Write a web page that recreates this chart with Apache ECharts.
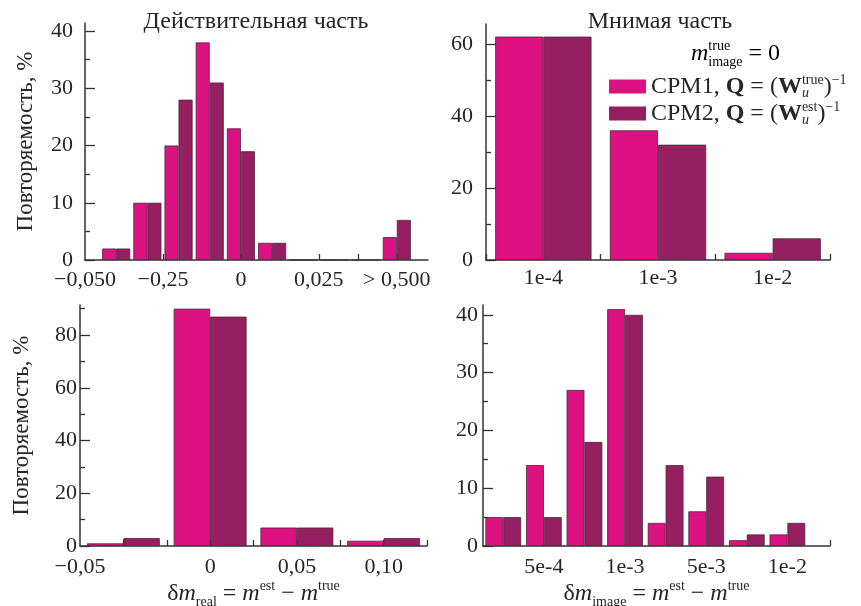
<!DOCTYPE html>
<html><head><meta charset="utf-8">
<script src="https://cdn.jsdelivr.net/npm/echarts@6/dist/echarts.min.js"></script>
<style>html,body{margin:0;padding:0;background:#fff}#c{width:861px;height:606px}</style>
</head><body><div id="c"></div>
<script>
// ---- data ----
const realBins = [1, 2, 3, 4, 5, 6, 7, 8, 9, 10];
const realCPM1 = [2, 10, 20, 38, 23, 3, 0, 0, 0, 4];
const realCPM2 = [2, 10, 28, 31, 19, 3, 0, 0, 0, 7];
const realTickPos = [0, 2.5, 5, 7.5, 10];
const realTickLabels = ['−0,050', '−0,25', '0', '0,025', '> 0,500'];

const imagCats = ['1e-4', '1e-3', '1e-2'];
const imagCPM1 = [62, 36, 2];
const imagCPM2 = [62, 32, 6];

const realZoomBins = [0.5, 1.5, 2.5, 3.5];
const realZoomCPM1 = [1, 90, 7, 2];
const realZoomCPM2 = [3, 87, 7, 3];
const realZoomTickPos = [0, 1.5, 2.5, 3.5];
const realZoomTickLabels = ['−0,05', '0', '0,05', '0,10'];

const imagZoomBins = [0.5, 1.5, 2.5, 3.5, 4.5, 5.5, 6.5, 7.5];
const imagZoomCPM1 = [5, 14, 27, 41, 4, 6, 1, 2];
const imagZoomCPM2 = [5, 5, 18, 40, 14, 12, 2, 4];
const imagZoomTickPos = [1.5, 3.5, 5.5, 7.5];
const imagZoomTickLabels = ['5e-4', '1e-3', '5e-3', '1e-2'];

const seriesNames = ['CPM1', 'CPM2'];
const yName = 'Повторяемость, %';

// ---- styles ----
const FONT = '"Liberation Serif", "DejaVu Serif", serif';
const PINK = '#DC1283';
const DARK = '#951F60';
const BORDER = '#4a2a3c';
const INK = '#262626';

const pair = (xs, ys) => xs.map((x, i) => [x, ys[i]]);
const mapLabel = (pos, labels) => v => {
  for (let i = 0; i < pos.length; i++) if (Math.abs(pos[i] - v) < 1e-6) return labels[i];
  return '';
};

function makeRich(main, small, lh) {
  const base = {fontFamily: FONT, fontSize: main, color: INK, lineHeight: lh};
  const sm = {fontFamily: FONT, fontSize: small, color: INK, lineHeight: small + 1};
  return {
    t: Object.assign({}, base),
    d: Object.assign({}, base),
    mi: Object.assign({}, base, {fontStyle: 'italic'}),
    b: Object.assign({}, base, {fontWeight: 'bold'}),
    sup: Object.assign({}, sm, {verticalAlign: 'top'}),
    sub: Object.assign({}, sm, {verticalAlign: 'bottom'}),
    subz: Object.assign({}, sm, {fontStyle: 'italic', verticalAlign: 'bottom', width: 0, align: 'left'}),
    supz: Object.assign({}, sm, {verticalAlign: 'top', width: 0, align: 'left'})
  };
}
const nameRich = makeRich(24, 14, 30);
const legendRich = makeRich(24, 14, 27);
const annRich = makeRich(24, 14, 30);

const axisLine = {show: true, lineStyle: {color: '#333', width: 1.5}};
const tickStyle = {color: '#333', width: 1.3};
const lbl = (extra) => Object.assign({color: INK, fontFamily: FONT, fontSize: 22}, extra);

function yAxis(grid, max, majors, margin, withName, gap) {
  return {
    type: 'value', gridIndex: grid, min: 0, max: max,
    interval: majors[1] - majors[0],
    axisLine: axisLine,
    axisTick: {show: true, inside: true, length: 10, customValues: majors, lineStyle: tickStyle},
    minorTick: {show: true, splitNumber: 2, length: 5, lineStyle: tickStyle},
    axisLabel: lbl({margin: margin, customValues: majors}),
    splitLine: {show: false},
    name: withName ? yName : '',
    nameLocation: 'middle', nameRotate: 90, nameGap: gap,
    nameTextStyle: {fontFamily: FONT, fontSize: 23, color: INK}
  };
}

function bars(xi, data1, data2, w) {
  return [
    {type: 'bar', name: seriesNames[0], xAxisIndex: xi, yAxisIndex: xi, data: data1,
     barWidth: w, barGap: '0%', itemStyle: {color: PINK, borderColor: BORDER, borderWidth: 0.8}},
    {type: 'bar', name: seriesNames[1], xAxisIndex: xi, yAxisIndex: xi, data: data2,
     barWidth: w, barGap: '0%', itemStyle: {color: DARK, borderColor: BORDER, borderWidth: 0.8}}
  ];
}

const option = {
  animation: false,
  backgroundColor: '#fff',
  grid: [
    {left: 85, top: 23, width: 343, height: 237, outerBoundsMode: 'none'},
    {left: 486, top: 24, width: 344, height: 236, outerBoundsMode: 'none'},
    {left: 80, top: 305, width: 347, height: 241, outerBoundsMode: 'none'},
    {left: 483, top: 305, width: 347, height: 241, outerBoundsMode: 'none'}
  ],
  xAxis: [
    {type: 'value', gridIndex: 0, min: 0, max: 11, interval: 1.25,
     axisLine: axisLine,
     axisTick: {show: true, inside: true, length: 6, customValues: [1.25, 2.5, 3.75, 5, 6.25, 7.5, 8.75, 10], lineStyle: tickStyle},
     axisLabel: lbl({margin: 9, customValues: realTickPos, formatter: mapLabel(realTickPos, realTickLabels)}),
     splitLine: {show: false}},
    {type: 'category', gridIndex: 1, data: imagCats, boundaryGap: true,
     axisLine: axisLine,
     axisTick: {show: true, inside: true, length: 6, lineStyle: tickStyle},
     axisLabel: lbl({margin: 7}),
     splitLine: {show: false}},
    {type: 'value', gridIndex: 2, min: 0, max: 4, interval: 0.5,
     axisLine: axisLine,
     axisTick: {show: true, inside: true, length: 6, customValues: [0.5, 1, 1.5, 2, 2.5, 3, 3.5, 4], lineStyle: tickStyle},
     axisLabel: lbl({margin: 10, customValues: realZoomTickPos, formatter: mapLabel(realZoomTickPos, realZoomTickLabels)}),
     splitLine: {show: false},
     name: '{d|δ}{mi|m}{sub|real}{t| = }{mi|m}{sup|est}{t| − }{mi|m}{sup|true}',
     nameLocation: 'middle', nameGap: 31,
     nameTextStyle: {rich: nameRich}},
    {type: 'value', gridIndex: 3, min: 0, max: 8.55, interval: 0.5,
     axisLine: axisLine,
     axisTick: {show: true, inside: true, length: 6, customValues: [8.55], lineStyle: tickStyle},
     axisLabel: lbl({margin: 10, customValues: imagZoomTickPos, formatter: mapLabel(imagZoomTickPos, imagZoomTickLabels)}),
     splitLine: {show: false},
     name: '{d|δ}{mi|m}{sub|image}{t| = }{mi|m}{sup|est}{t| − }{mi|m}{sup|true}',
     nameLocation: 'middle', nameGap: 31,
     nameTextStyle: {rich: nameRich}}
  ],
  yAxis: [
    yAxis(0, 41.4, [0, 10, 20, 30, 40], 12, true, 48),
    yAxis(1, 65.5, [0, 20, 40, 60], 13, false, 0),
    yAxis(2, 91.4, [0, 20, 40, 60, 80], 3, true, 47),
    yAxis(3, 41.7, [0, 10, 20, 30, 40], 5, false, 0)
  ],
  legend: {
    orient: 'vertical', left: 604, top: 68,
    icon: 'rect',
    itemWidth: 37, itemHeight: 14, itemGap: 0,
    itemStyle: {borderWidth: 0},
    data: seriesNames,
    formatter: function (name) {
      return name === 'CPM1'
        ? '{t|CPM1, }{b|Q}{t| = (}{b|W}{subz|u}{sup|true}{t|)}{sup|−1}'
        : '{t|CPM2, }{b|Q}{t| = (}{b|W}{subz|u}{sup|est}{t|)}{sup|−1}';
    },
    textStyle: {rich: legendRich}
  },
  graphic: [
    {type: 'text', x: 256, y: 22, style: {text: 'Действительная часть', align: 'center', verticalAlign: 'middle', fontFamily: FONT, fontSize: 24, fill: INK}},
    {type: 'text', x: 660, y: 22, style: {text: 'Мнимая часть', align: 'center', verticalAlign: 'middle', fontFamily: FONT, fontSize: 24, fill: INK}},
    {type: 'text', x: 691, y: 54, style: {text: '{mi|m}{supz|true}{sub|image}{t| = 0}', align: 'left', verticalAlign: 'middle', rich: annRich}}
  ],
  series: [].concat(
    bars(0, pair(realBins, realCPM1), pair(realBins, realCPM2), '45%'),
    bars(1, imagCPM1, imagCPM2, '42%'),
    bars(2, pair(realZoomBins, realZoomCPM1), pair(realZoomBins, realZoomCPM2), '42%'),
    bars(3, pair(imagZoomBins, imagZoomCPM1), pair(imagZoomBins, imagZoomCPM2), '44%')
  )
};

const chart = echarts.init(document.getElementById('c'), null, {renderer: 'canvas'});
chart.setOption(option);
</script></body></html>
